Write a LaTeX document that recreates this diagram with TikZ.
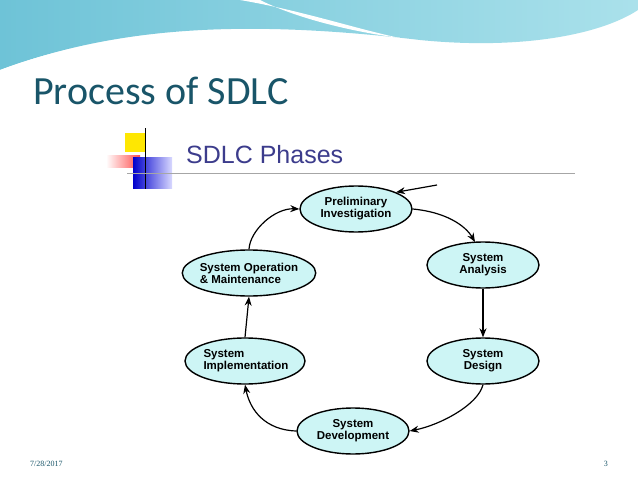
\documentclass[tikz,border=0pt]{standalone}
\usepackage{fontspec}
\setmainfont{Liberation Sans}
\newfontfamily\calib{Carlito}
\newfontfamily\serifft{Liberation Serif}
\usetikzlibrary{shapes.geometric,arrows.meta}
\definecolor{phase}{RGB}{205,245,245}
\definecolor{ttl}{RGB}{25,85,105}
\definecolor{sub}{RGB}{60,60,140}
\definecolor{wave1}{RGB}{110,195,215}
\definecolor{wave2}{RGB}{170,225,235}
\tikzset{
 phasebox/.style={ellipse,draw=black,line width=1.4pt,fill=phase,minimum width=112pt,minimum height=46pt,inner sep=-2pt,align=center,font=\bfseries\fontsize{11.5}{12}\selectfont},
 flow/.style={-{Stealth[length=9pt,width=7pt]},line width=1.2pt}
}
\begin{document}
\begin{tikzpicture}[x=1pt,y=-1pt]
\useasboundingbox (0,0) rectangle (638,479);
\fill[white] (0,0) rectangle (638,479);
% top wave
\shade[left color=wave1,right color=wave2] (0,0) -- (0,70) .. controls (120,25) and (250,20) .. (420,40) .. controls (520,50) and (600,35) .. (638,10) -- (638,0) -- cycle;
\fill[white] (0,75) -- (0,70) .. controls (120,25) and (250,28) .. (420,42) .. controls (520,52) and (600,38) .. (638,14) -- (638,25) .. controls (600,45) and (520,58) .. (420,48) .. controls (250,35) and (120,40) .. (0,75) -- cycle;
\fill[white] (240,0) .. controls (300,10) and (360,30) .. (400,38) .. controls (340,30) and (290,15) .. (260,0) -- cycle;
\node[anchor=base west,text=ttl,font=\calib\fontsize{40}{40}\selectfont,inner sep=0] (title) at (33,104) {Process of SDLC};
% decoration
\fill[yellow!90!orange] (125,133) rectangle (146,152);
\shade[left color=white,right color=red!70] (106,155) rectangle (140,167);
\shade[left color=blue!80!black,right color=blue!15] (133,157) rectangle (172,188);
\draw[black,line width=0.8pt] (145,128) -- (145,189);
\draw[black!35,line width=0.6pt] (127,173) -- (575,173);
\node[anchor=base west,text=sub,font=\fontsize{25}{25}\selectfont,inner sep=0] (sub) at (186,163) {SDLC Phases};
% phases
\node[phasebox] (pre) at (356,209) {Preliminary\\Investigation};
\node[phasebox] (ana) at (483,265) {System\\Analysis};
\node[phasebox] (des) at (483,361) {System\\Design};
\node[phasebox] (dev) at (353,431) {System\\Development};
\node[phasebox,minimum width=120pt,align=left] (imp) at (245,361) {\hspace*{2pt}System\\\hspace*{2pt}Implementation};
\node[phasebox,minimum width=128pt,align=left] (ops) at (249,273) {System Operation\\\&\ Maintenance};
\coordinate (start) at (437,185);
\draw[flow] (start) -- (pre.north east);
\draw[flow] (pre.east) .. controls (445,212) and (465,225) .. (475,242);
\draw[flow] (ana.south) -- (des.north);
\draw[flow] (des.south) .. controls (478,405) and (440,425) .. (dev.east);
\draw[flow] (dev.west) .. controls (265,430) and (250,410) .. (imp.south);
\draw[flow] (imp.north) -- (ops.south);
\draw[flow] (ops.north) .. controls (250,230) and (275,208) .. (pre.west);
% footer
\node[anchor=base west,font=\serifft\fontsize{8}{8}\selectfont,text=ttl,inner sep=0] (date) at (30,466) {7/28/2017};
\node[anchor=base east,font=\serifft\fontsize{8}{8}\selectfont,text=ttl,inner sep=0] (pg) at (608,466) {3};
\end{tikzpicture}
\end{document}
